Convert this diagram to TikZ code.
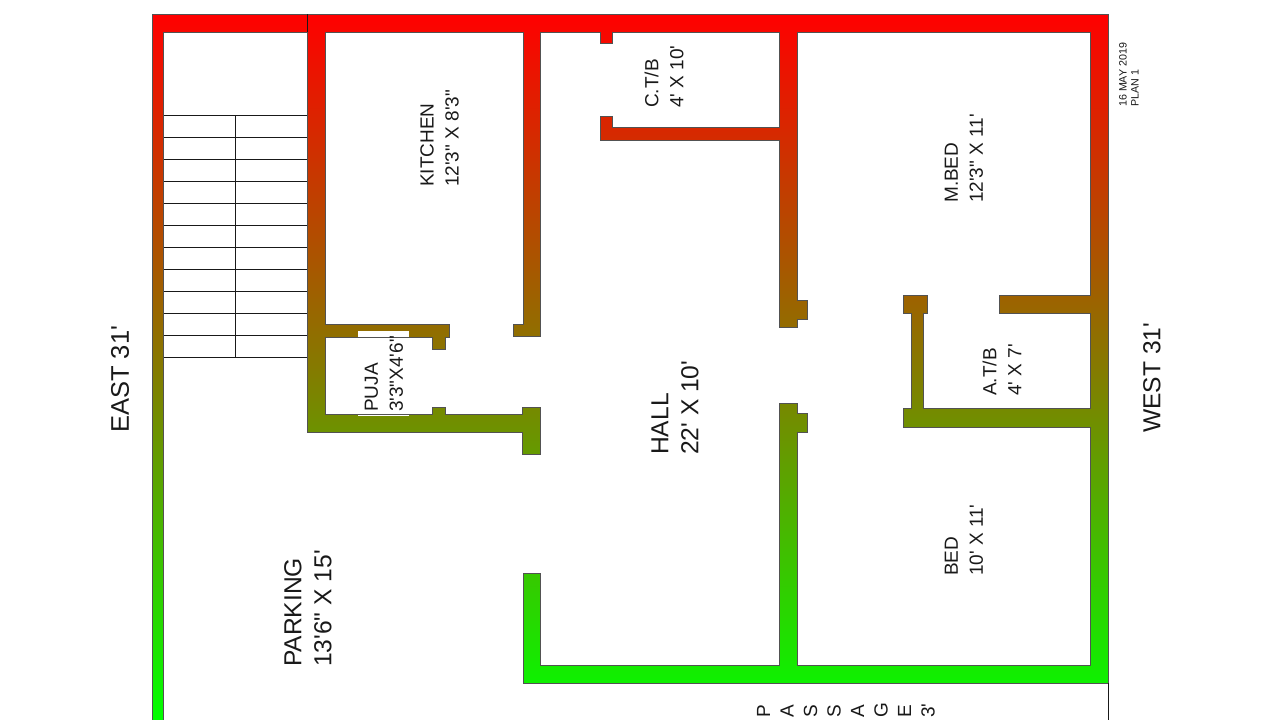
\documentclass[tikz,border=0pt]{standalone}
\usepackage{fontspec}
\newfontfamily\labfont{Liberation Sans}
\definecolor{ink}{RGB}{25,25,25}
\definecolor{wallmid}{RGB}{133,122,0}
\tikzset{
  x=1pt,y=-1pt,
  wall/.style={draw=ink!75!white,line width=0.9pt,line join=miter,top color=red,bottom color=green,middle color=wallmid},
  tread/.style={draw=ink,line width=0.9pt},
  room/.style={rotate=90,anchor=west,align=left,inner sep=0pt,text=black!90,font=\labfont\fontsize{19}{25}\selectfont},
  bigroom/.style={room,font=\labfont\fontsize{24.6}{30}\selectfont},
  smallnote/.style={room,font=\labfont\fontsize{10.7}{12}\selectfont},
  passage/.style={room,font=\labfont\fontsize{19}{23.5}\selectfont}
}
\begin{document}
\begin{tikzpicture}
\useasboundingbox (0,0) rectangle (1280,720);
\fill[white] (0,0) rectangle (1280,720);
% stairs
\foreach \yy in {115,137,159,181,203,225,247,269,291,313,335,357}
  \draw[tread] (163,\yy) -- (307,\yy);
\draw[tread] (235,115) -- (235,357);
% walls: one polygon with a single top-to-bottom gradient
\path[wall] (152,14) -- (1108,14) -- (1108,683) -- (523,683) -- (523,573) -- (540,573) -- (540,665)
 -- (779,665) -- (779,403) -- (797,403) -- (797,413) -- (807,413) -- (807,432) -- (797,432) -- (797,665)
 -- (1090,665) -- (1090,427) -- (903,427) -- (903,408) -- (911,408) -- (911,313) -- (903,313) -- (903,295)
 -- (927,295) -- (927,313) -- (923,313) -- (923,408) -- (1090,408) -- (1090,313) -- (999,313) -- (999,295)
 -- (1090,295) -- (1090,32) -- (797,32) -- (797,300) -- (807,300) -- (807,319) -- (797,319) -- (797,327)
 -- (779,327) -- (779,140) -- (600,140) -- (600,116) -- (612,116) -- (612,127) -- (779,127) -- (779,32)
 -- (612,32) -- (612,43) -- (600,43) -- (600,32) -- (540,32) -- (540,336) -- (513,336) -- (513,324)
 -- (523,324) -- (523,32) -- (325,32) -- (325,324) -- (449,324) -- (449,337) -- (445,337) -- (445,349)
 -- (432,349) -- (432,337) -- (325,337) -- (325,414) -- (432,414) -- (432,407) -- (445,407) -- (445,414)
 -- (522,414) -- (522,407) -- (540,407) -- (540,454) -- (522,454) -- (522,432) -- (307,432) -- (307,32)
 -- (163,32) -- (163,720) -- (152,720) -- cycle;
\draw[tread] (307,14) -- (307,32);
\draw[tread] (1108,683) -- (1108,720);
% puja opening
\fill[white] (358,331) rectangle (409,336.5);
\draw[white,line width=0.8pt] (358,415) -- (409,415);
% labels
\node[room] (kitchen) at (439.5,187) {KITCHEN\\12'3" X 8'3"};
\node[room] (ctb) at (664,108) {C.T/B\\4' X 10'};
\node[room] (mbed) at (964,203) {M.BED\\12'3" X 11'};
\node[room] (atb) at (1002,396) {A.T/B\\4' X 7'};
\node[room] (bed) at (964,576) {BED\\10' X 11'};
\node[room] (puja) at (384,412) {PUJA\\3'3"X4'6"};
\node[bigroom] (hall) at (675,455) {HALL\\22' X 10'};
\node[bigroom] (parking) at (308,667) {PARKING\\13'6" X 15'};
\node[bigroom,font=\labfont\fontsize{25.5}{30}\selectfont] (east) at (120,433) {EAST 31'};
\node[bigroom] (west) at (1152,433) {WEST 31'};
\node[smallnote] (note) at (1129,107) {16 MAY 2019\\PLAN 1};
\node[passage] (pass) at (846,718) {P\\A\\S\\S\\A\\G\\E\\3'};
\end{tikzpicture}
\end{document}
